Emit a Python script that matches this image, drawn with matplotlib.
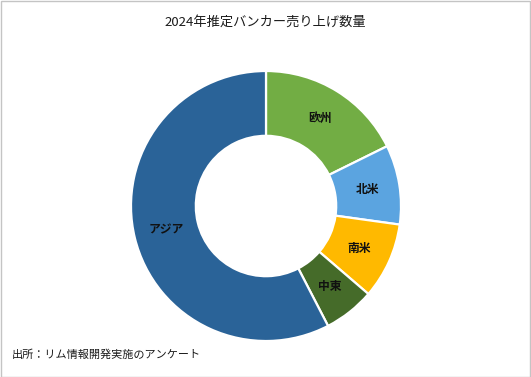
import numpy as np
import matplotlib
matplotlib.use("Agg")
import matplotlib.pyplot as plt
from matplotlib.patches import Rectangle

plt.rcParams["font.family"] = ["Noto Sans CJK JP", "DejaVu Sans"]

regions = ["欧州", "北米", "南米", "中東", "アジア"]
shares = [17.7, 9.5, 9.1, 6.1, 57.6]
colors = ["#72ad44", "#5ba4e0", "#ffb900", "#456b29", "#2a6398"]

W, H = 531, 377
fig = plt.figure(figsize=(W / 100, H / 100), dpi=100)
fig.patch.set_facecolor("white")

cx, cy, r = 266, 206, 135
ax = fig.add_axes([(cx - r) / W, (H - cy - r) / H, 2 * r / W, 2 * r / H])
wedges, _ = ax.pie(shares, colors=colors, startangle=90, counterclock=False,
                   radius=1.0, wedgeprops=dict(width=0.48, edgecolor="white",
                                               linewidth=1.6))
ax.set_xlim(-1, 1)
ax.set_ylim(-1, 1)
ax.set_aspect("equal")
ax.axis("off")

# ラベル（リングの中央）
for w, name in zip(wedges, regions):
    mid = np.deg2rad((w.theta1 + w.theta2) / 2)
    ax.text(0.76 * np.cos(mid), 0.76 * np.sin(mid), name, ha="center",
            va="center", fontsize=8.5, fontweight="bold", color="#111111")

fig.text(0.5, 1 - 22 / H, "2024年推定バンカー売り上げ数量", ha="center",
         va="center", fontsize=9.5, color="#1a1a1a")
fig.text(12 / W, 1 - 355 / H, "出所：リム情報開発実施のアンケート", ha="left",
         va="center", fontsize=8, color="#1a1a1a")

fig.add_artist(Rectangle((0.5 / W, 0.5 / H), 1 - 1.5 / W, 1 - 1.5 / H,
                         transform=fig.transFigure, fill=False,
                         edgecolor="#c4c4c4", linewidth=1))

fig.savefig("out.png", dpi=100, facecolor="white")
